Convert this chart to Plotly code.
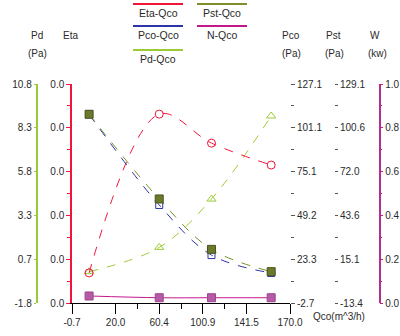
import numpy as np
import plotly.graph_objects as go

# ---------------- data ----------------
qco = [-4.8, 60.4, 109.0, 164.5]
eta = [0.0055, 0.0345, 0.0292, 0.0252]
pco = [109.1, 55.4, 25.7, 15.1]
pst = [109.4, 54.3, 21.5, 7.0]
pd_ = [0.0, 1.40, 4.18, 8.96]
n_kw = [0.032, 0.024, 0.024, 0.024]

x_ticktext = ["-0.7", "20.0", "60.4", "100.9", "141.5", "170.0"]
pd_ticktext = ["-1.8", "0.7", "3.3", "5.8", "8.3", "10.8"]
pco_ticktext = ["-2.7", "23.3", "49.2", "75.1", "101.1", "127.1"]
pst_ticktext = ["-13.4", "15.1", "43.6", "72.0", "100.6", "129.1"]

series_names = ["Eta-Qco", "Pst-Qco", "Pco-Qco", "N-Qco", "Pd-Qco"]
x_title = "Qco(m^3/h)"

# ---------------- styles ----------------
C_ETA = "#f0163a"
C_PCO = "#2b35a8"
C_PST = "#7d8f2c"
C_PD = "#9ccc35"
C_N = "#c4178a"
C_NMK = "#b45aa6"
GRID = "#c4c4c4"
TXT = "#2a2a2a"
FONT = "Liberation Sans"

W, H = 400, 336
px = lambda v: v / W
py = lambda v: 1 - v / H

x_rng = [-20.7, 182.0]
pd_rng = [-1.8, 10.8]
eta_rng = [0.0, 0.04]
pco_rng = [-2.7, 127.1]
pst_rng = [-13.4, 129.1]
n_rng = [0.0, 1.0]


def mids(r):
    v = np.linspace(r[0], r[1], 6)
    return list((v[:-1] + v[1:]) / 2)


fig = go.Figure()

fig.add_trace(go.Scatter(x=qco, y=pd_, yaxis="y", mode="lines+markers",
                         line=dict(color=C_PD, width=1, dash="dash", shape="spline"),
                         marker=dict(symbol="triangle-up-open", size=8, color=C_PD, line=dict(width=1))))
fig.add_trace(go.Scatter(x=qco, y=pco, yaxis="y3", mode="lines+markers",
                         line=dict(color=C_PCO, width=1, dash="dash", shape="spline"),
                         marker=dict(symbol="square-open", size=7, color=C_PCO, line=dict(width=1))))
fig.add_trace(go.Scatter(x=qco, y=pst, yaxis="y4", mode="lines+markers",
                         line=dict(color=C_PST, width=1, dash="dash", shape="spline"),
                         marker=dict(symbol="square", size=8, color="#6b7a2a",
                                     line=dict(width=1, color="#4a5520"))))
fig.add_trace(go.Scatter(x=qco, y=eta, yaxis="y2", mode="lines+markers",
                         line=dict(color=C_ETA, width=1, dash="dash", shape="spline"),
                         marker=dict(symbol="circle-open", size=8, color=C_ETA, line=dict(width=1))))
fig.add_trace(go.Scatter(x=qco, y=n_kw, yaxis="y5", mode="lines+markers",
                         line=dict(color=C_N, width=1, shape="spline"),
                         marker=dict(symbol="square", size=8, color=C_NMK,
                                     line=dict(width=1, color="#9a4590"))))

tickfont = dict(family=FONT, size=10, color=TXT)
xdom = [px(72), px(290)]
ydom = [py(303), py(84)]

x_tickvals = list(np.linspace(x_rng[0], x_rng[1], 6))

fig.update_layout(
    template="none",
    width=W, height=H, autosize=False,
    margin=dict(l=0, r=0, t=0, b=0, pad=0),
    paper_bgcolor="white", plot_bgcolor="white",
    showlegend=False,
    font=dict(family=FONT, size=10, color=TXT),
    xaxis=dict(domain=xdom, range=x_rng, anchor="y", automargin=False,
               tickmode="array", tickvals=x_tickvals, ticktext=x_ticktext,
               ticks="outside", ticklen=10, tickcolor="black", tickwidth=1,
               minor=dict(tickmode="array", tickvals=mids(x_rng)[1:4], ticks="outside",
                          ticklen=5, tickcolor="black", tickwidth=1),
               showline=True, linecolor="black", linewidth=1,
               showgrid=False, zeroline=False, tickfont=tickfont),
    xaxis2=dict(overlaying="x", anchor="y", range=x_rng, automargin=False,
                tickmode="array", tickvals=x_tickvals[1:4],
                showticklabels=False, ticks="", showline=False,
                showgrid=True, gridcolor=GRID, gridwidth=1, zeroline=False),
    yaxis=dict(domain=ydom, range=pd_rng, anchor="free", position=px(36.5), side="left",
               automargin=False,
               tickmode="array", tickvals=list(np.linspace(pd_rng[0], pd_rng[1], 6)),
               ticktext=pd_ticktext, ticks="outside", ticklen=2, tickcolor=C_PD, tickwidth=1,
               showline=True, linecolor=C_PD, linewidth=1.5,
               showgrid=False, zeroline=False, tickfont=tickfont),
    yaxis2=dict(overlaying="y", anchor="x", side="left", range=eta_rng, automargin=False,
                tickmode="array", tickvals=list(np.linspace(eta_rng[0], eta_rng[1], 6)),
                tickformat=".1f", ticks="outside", ticklen=4, tickcolor=C_ETA, tickwidth=1,
                minor=dict(tickmode="array", tickvals=mids(eta_rng), ticks="outside",
                           ticklen=3, tickcolor=C_ETA, tickwidth=1),
                showline=True, linecolor=C_ETA, linewidth=1.5,
                showgrid=False, zeroline=False, tickfont=tickfont),
    yaxis3=dict(overlaying="y", anchor="x", side="right", range=pco_rng, automargin=False,
                tickmode="array", tickvals=list(np.linspace(pco_rng[0], pco_rng[1], 6)),
                ticktext=pco_ticktext, ticks="outside", ticklen=4, tickcolor="#555", tickwidth=1,
                minor=dict(tickmode="array", tickvals=mids(pco_rng), ticks="outside",
                           ticklen=3, tickcolor="#555", tickwidth=1),
                showline=False, showgrid=False, zeroline=False, tickfont=tickfont),
    yaxis4=dict(overlaying="y", anchor="free", position=px(334), side="right", range=pst_rng,
                automargin=False,
                tickmode="array", tickvals=list(np.linspace(pst_rng[0], pst_rng[1], 6)),
                ticktext=pst_ticktext, ticks="outside", ticklen=3, tickcolor="#555", tickwidth=1,
                minor=dict(tickmode="array", tickvals=mids(pst_rng), ticks="outside",
                           ticklen=3, tickcolor="#555", tickwidth=1),
                showline=False, showgrid=False, zeroline=False, tickfont=tickfont),
    yaxis5=dict(overlaying="y", anchor="free", position=px(379.5), side="right", range=n_rng,
                automargin=False,
                tickmode="array", tickvals=list(np.linspace(n_rng[0], n_rng[1], 6)),
                tickformat=".1f", ticks="outside", ticklen=3, tickcolor=C_N, tickwidth=1,
                minor=dict(tickmode="array", tickvals=mids(n_rng), ticks="outside",
                           ticklen=2, tickcolor=C_N, tickwidth=1),
                showline=True, linecolor="#b0308c", linewidth=1.5,
                showgrid=False, zeroline=False, tickfont=tickfont),
    yaxis6=dict(overlaying="y", anchor="x", range=pco_rng, automargin=False,
                tickmode="array", tickvals=[23.3, 101.1, 127.1],
                showticklabels=False, ticks="", showline=False,
                showgrid=True, gridcolor=GRID, gridwidth=1, zeroline=False),
)

# header labels of the axes
headers = [("Pd", 37, 36), ("(Pa)", 37, 53), ("Eta", 70, 36),
           ("Pco", 291, 36), ("(Pa)", 291, 53), ("Pst", 333, 36), ("(Pa)", 334, 53),
           ("W", 375, 36), ("(kw)", 377, 53)]
for t, xx, yy in headers:
    fig.add_annotation(text=t, x=px(xx), y=py(yy), xref="paper", yref="paper",
                       showarrow=False, xanchor="center", yanchor="middle",
                       font=dict(family=FONT, size=10, color=TXT))

fig.add_annotation(text=x_title, x=px(339), y=py(316), xref="paper", yref="paper",
                   showarrow=False, xanchor="center", yanchor="middle",
                   font=dict(family=FONT, size=10, color=TXT))

# custom legend (line above its label)
leg_colors = [C_ETA, C_PST, C_PCO, C_N, C_PD]
leg_pos = [(158, 4, 13), (222, 4, 13), (158, 26, 35), (222, 26, 35), (158, 50, 59)]
for name, col, (cx, ly, ty) in zip(series_names, leg_colors, leg_pos):
    fig.add_shape(type="line", xref="paper", yref="paper",
                  x0=px(cx - 25), x1=px(cx + 25), y0=py(ly), y1=py(ly),
                  line=dict(color=col, width=2))
    fig.add_annotation(text=name, x=px(cx), y=py(ty), xref="paper", yref="paper",
                       showarrow=False, xanchor="center", yanchor="middle",
                       font=dict(family=FONT, size=10.5, color=TXT))

fig.write_html("out.html",
               config={"displayModeBar": False},
               post_script="document.body.style.margin='0px';"
                           "document.body.style.overflow='hidden';")
